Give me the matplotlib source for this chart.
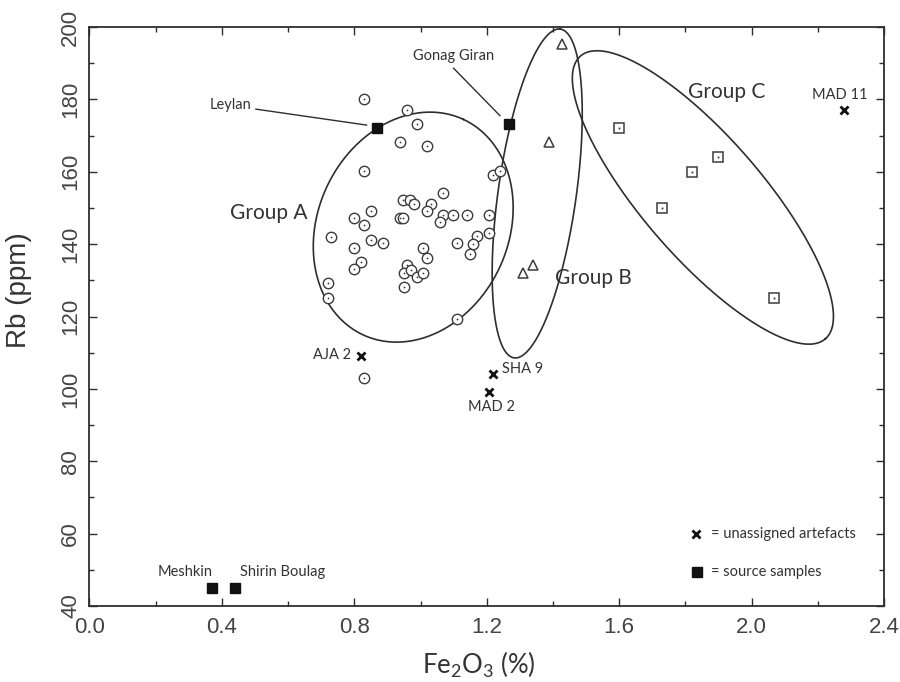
import numpy as np
import matplotlib
matplotlib.use("Agg")
import matplotlib.pyplot as plt
from matplotlib.ticker import MultipleLocator, FormatStrFormatter

# ---------------- data ----------------
# Group A artefacts (Fe2O3 %, Rb ppm)
group_a_fe = [0.830, 0.959, 0.988, 0.938, 1.019, 0.830, 1.218, 1.240, 1.069, 0.948,
              0.968, 0.980, 1.031, 1.019, 0.849, 0.799, 0.938, 0.948, 1.069, 1.099,
              1.140, 1.208, 1.059, 0.830, 0.730, 0.799, 0.849, 0.888, 0.820, 0.799,
              1.009, 1.019, 0.960, 0.950, 0.970, 0.988, 1.009, 0.950, 1.109, 1.170,
              1.158, 1.208, 1.150, 0.720, 0.720, 1.109, 0.829]
group_a_rb = [180.1, 177.1, 173.2, 168.1, 167.1, 160.3, 159.1, 160.3, 154.0, 152.2,
              152.2, 151.1, 151.1, 149.2, 149.2, 147.3, 147.3, 147.3, 148.1, 148.1,
              148.1, 148.1, 146.2, 145.3, 142.1, 139.0, 141.1, 140.2, 135.1, 133.0,
              139.0, 136.1, 134.2, 132.1, 132.9, 131.0, 132.1, 128.1, 140.2, 142.2,
              140.0, 143.0, 137.2, 129.2, 125.0, 119.2, 102.9]

# Group B artefacts
group_b_fe = [1.428, 1.388, 1.341, 1.309]
group_b_rb = [195.3, 168.1, 134.2, 132.1]

# Group C artefacts
group_c_fe = [1.600, 1.898, 1.819, 1.729, 2.069]
group_c_rb = [172.0, 164.0, 160.0, 149.9, 125.0]

# Unassigned artefacts
unassigned_names = ["AJA 2", "SHA 9", "MAD 2", "MAD 11"]
unassigned_fe = [0.819, 1.220, 1.208, 2.279]
unassigned_rb = [109.1, 104.1, 99.2, 177.1]

# Geological source samples
source_names = ["Meshkin", "Shirin Boulag", "Leylan", "Gonag Giran"]
source_fe = [0.371, 0.441, 0.870, 1.268]
source_rb = [45.1, 45.1, 172.1, 173.2]

# Group envelopes: centre (Fe2O3, Rb), semi-axes in Fe2O3 units on an
# isotropic (screen) scale, and rotation in degrees
group_names = ["Group A", "Group B", "Group C"]
ellipse_center = [(0.978, 144.7), (1.3525, 154.0), (1.853, 152.9)]
ellipse_axes = [(0.359, 0.288), (0.5015, 0.118), (0.565, 0.181)]
ellipse_angle = [65.0, 82.0, -49.1]

x_ticks = [0.0, 0.4, 0.8, 1.2, 1.6, 2.0, 2.4]
y_ticks = [40, 60, 80, 100, 120, 140, 160, 180, 200]

# ---------------- figure ----------------
plt.rcParams["mathtext.default"] = "regular"
fig = plt.figure(figsize=(9.0, 6.82), dpi=100)
ax = fig.add_axes([0.0994, 0.1114, 0.8828, 0.8490])
ax.set_xlim(0.0, 2.4)
ax.set_ylim(40, 200)

ink = "#3c3c3c"
label_font = "Lato"

# screen aspect: pixels per Rb unit relative to pixels per Fe2O3 unit
fig_w, fig_h = fig.get_size_inches() * fig.dpi
pos = ax.get_position()
px_per_x = pos.width * fig_w / 2.4
px_per_y = pos.height * fig_h / 160.0
aspect = px_per_y / px_per_x


def ellipse_curve(center, axes_ab, angle_deg, n=400):
    t = np.linspace(0, 2 * np.pi, n)
    a, b = axes_ab
    th = np.deg2rad(angle_deg)
    u = a * np.cos(t) * np.cos(th) - b * np.sin(t) * np.sin(th)
    v = a * np.cos(t) * np.sin(th) + b * np.sin(t) * np.cos(th)
    return center[0] + u, center[1] + v / aspect


for c, ab, ang in zip(ellipse_center, ellipse_axes, ellipse_angle):
    ex, ey = ellipse_curve(c, ab, ang)
    ax.plot(ex, ey, color="#2e2e2e", lw=1.2, zorder=2)

# Group A: dotted circles
ax.plot(group_a_fe, group_a_rb, ls="none", marker="o", ms=7.5, mfc="white",
        mec=ink, mew=1.0, zorder=3)
ax.plot(group_a_fe, group_a_rb, ls="none", marker="o", ms=1.3, mfc=ink,
        mec=ink, mew=0, zorder=4)

# Group B: open triangles
ax.plot(group_b_fe, group_b_rb, ls="none", marker="^", ms=7.5, mfc="white",
        mec=ink, mew=1.1, zorder=3)

# Group C: dotted squares
ax.plot(group_c_fe, group_c_rb, ls="none", marker="s", ms=7.0, mfc="white",
        mec=ink, mew=1.1, zorder=3)
ax.plot(group_c_fe, group_c_rb, ls="none", marker="s", ms=1.3, mfc=ink,
        mec=ink, mew=0, zorder=4)

# Unassigned artefacts
ax.plot(unassigned_fe, unassigned_rb, ls="none", marker="x", ms=5.5,
        mec="#111111", mew=2.0, zorder=5)

# Source samples
ax.plot(source_fe, source_rb, ls="none", marker="s", ms=7.5, mfc="#111111",
        mec="#111111", zorder=5)

# ---------------- annotations ----------------
small = dict(fontsize=10.5, family=label_font, color="#333333")

ax.text(0.79, 109.4, unassigned_names[0], ha="right", va="center", **small)
ax.text(1.245, 105.4, unassigned_names[1], ha="left", va="center", **small)
ax.text(1.215, 94.9, unassigned_names[2], ha="center", va="center", **small)
ax.text(2.267, 181.2, unassigned_names[3], ha="center", va="center", **small)

ax.text(0.29, 49.4, source_names[0], ha="center", va="center", **small)
ax.text(0.455, 49.4, source_names[1], ha="left", va="center", **small)
ax.text(0.49, 178.4, source_names[2], ha="right", va="center", **small)
ax.text(1.10, 192.0, source_names[3], ha="center", va="center", **small)

# leader lines to the named sources
ax.plot([0.503, 0.837], [177.3, 172.9], color="#2e2e2e", lw=1.0, zorder=2)
ax.plot([1.10, 1.24], [188.6, 175.5], color="#2e2e2e", lw=1.0, zorder=2)

big = dict(fontsize=15, family=label_font, color="#333333")
ax.text(0.66, 148.7, group_names[0], ha="right", va="center", **big)
ax.text(1.405, 130.6, group_names[1], ha="left", va="center", **big)
ax.text(1.808, 182.1, group_names[2], ha="left", va="center", **big)

# key
ax.plot([1.832], [59.9], ls="none", marker="x", ms=5.5, mec="#111111", mew=2.0)
ax.plot([1.836], [49.5], ls="none", marker="s", ms=7.0, mfc="#111111", mec="#111111")
ax.text(1.877, 59.9, "= unassigned artefacts", ha="left", va="center", **small)
ax.text(1.877, 49.5, "= source samples", ha="left", va="center", **small)

# ---------------- axes styling ----------------
ax.xaxis.set_major_locator(plt.FixedLocator(x_ticks))
ax.xaxis.set_minor_locator(MultipleLocator(0.2))
ax.yaxis.set_major_locator(plt.FixedLocator(y_ticks))
ax.yaxis.set_minor_locator(MultipleLocator(10))
ax.xaxis.set_major_formatter(FormatStrFormatter("%.1f"))

ax.tick_params(which="both", direction="in", top=True, right=True,
               colors="#2e2e2e", width=1.0)
ax.tick_params(which="major", length=6)
ax.tick_params(which="minor", length=3.5)
ax.tick_params(axis="both", labelsize=16, labelcolor="#444444", pad=6)
ax.tick_params(axis="x", pad=8)

for lbl in ax.get_xticklabels() + ax.get_yticklabels():
    lbl.set_family("Liberation Sans")
for lbl in ax.get_yticklabels():
    lbl.set_rotation(90)
    lbl.set_va("center")

for sp in ax.spines.values():
    sp.set_color("#2e2e2e")
    sp.set_linewidth(1.3)

ax.set_xlabel("Fe$_2$O$_3$ (%)", fontsize=18.5, family=label_font, color="#333333")
ax.set_ylabel("Rb (ppm)", fontsize=20, family="Liberation Sans", color="#333333")
ax.xaxis.set_label_coords(0.49, -0.076)
ax.yaxis.set_label_coords(-0.072, 0.545)

fig.savefig("out.png", dpi=100, facecolor="white")
